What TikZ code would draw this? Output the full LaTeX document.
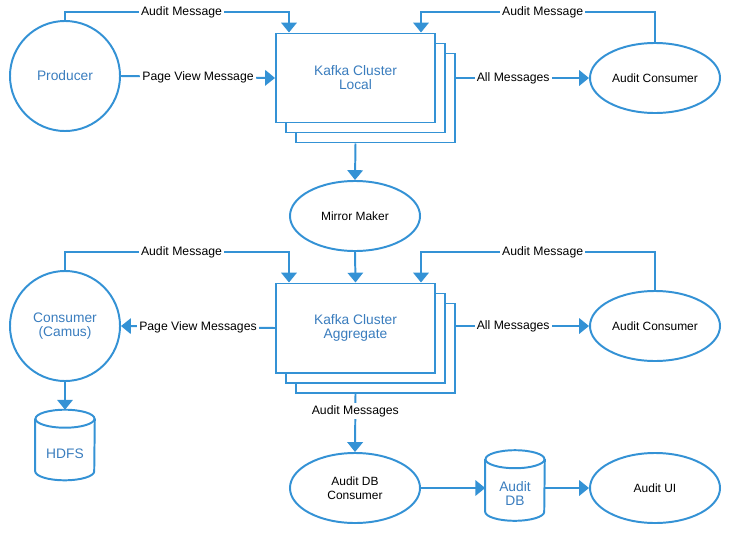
\documentclass[tikz,border=0pt]{standalone}
\usepackage{fontspec}
\setmainfont{Liberation Sans}
\usetikzlibrary{shapes.geometric,arrows.meta,calc}

\definecolor{flowblue}{RGB}{52,146,213}
\definecolor{textblue}{RGB}{58,125,190}

\tikzset{
  flow/.style={draw=flowblue, line width=1.4pt, -{Triangle[width=11pt,length=7pt]}},
  lbl/.style={fill=white, inner sep=1.5pt, font=\fontsize{8.7}{10}\selectfont, text=black},
  bluetxt/.style={font=\fontsize{9.8}{10}\selectfont, text=textblue, align=center},
  blacktxt/.style={font=\fontsize{8.5}{10}\selectfont, text=black, align=center},
  proc/.style={circle, draw=flowblue, line width=1.4pt, minimum size=2.75cm, inner sep=0pt},
  oval/.style={ellipse, draw=flowblue, line width=1.4pt, minimum width=3.25cm, minimum height=1.75cm, inner sep=0pt},
  cluster/.style={rectangle, draw=flowblue, fill=white, line width=1.4pt, minimum width=3.975cm, minimum height=2.225cm, inner sep=0pt},
  dbbox/.style={rectangle, minimum width=1.475cm, minimum height=1.75cm, inner sep=0pt}
}

\newcommand{\dbcyl}[1]{%
  \draw[flowblue, line width=1.4pt] ($(#1.north)+(0,9)$) ellipse [x radius=29.5, y radius=9];
  \draw[flowblue, line width=1.4pt] ($(#1.north west)+(0,9)$) -- ($(#1.south west)+(0,-9)$)
    arc (180:0:29.5 and 9) -- ($(#1.north east)+(0,9)$);
}

\begin{document}
\begin{tikzpicture}[x=0.025cm, y=-0.025cm]
\useasboundingbox (0,0) rectangle (730,533);

% Local cluster (stacked)
\node[cluster] (local3) at (375.5,98) {};
\node[cluster] (local2) at (365.5,88) {};
\node[cluster, bluetxt] (local) at (355.5,78) {Kafka Cluster\\Local};

% Aggregate cluster (stacked)
\node[cluster] (agg3) at (375.5,348) {};
\node[cluster] (agg2) at (365.5,338) {};
\node[cluster, bluetxt] (agg) at (355.5,328) {Kafka Cluster\\Aggregate};

% Processes
\node[proc, bluetxt] (producer) at (65,76) {Producer};
\node[proc, bluetxt] (camus) at (65,326) {Consumer\\(Camus)};
\node[oval, blacktxt] (acl) at (655,78) {Audit Consumer};
\node[oval, blacktxt] (mirror) at (355,216) {Mirror Maker};
\node[oval, blacktxt] (acagg) at (655,326) {Audit Consumer};
\node[oval, blacktxt] (adbc) at (355,488) {Audit DB\\Consumer};
\node[oval, blacktxt] (aui) at (655,488) {Audit UI};

% Stores
\node[dbbox, bluetxt] (hdfs) at (65,445) {\raisebox{-6pt}[\height][\depth]{HDFS}};
\dbcyl{hdfs}
\node[dbbox, bluetxt] (adb) at (515,485.5) {\raisebox{-7pt}[\height][\depth]{\begin{tabular}{@{}c@{}}Audit\\DB\end{tabular}}};
\dbcyl{adb}

% Upper flows
\draw[flow] (producer.north) -- ++(0,-8) -| node[lbl, pos=0.26] {Audit Message} ($(local.north west)+(14,0)$);
\draw[flow] (producer.east) -- node[lbl] {Page View Message} (local.west);
\draw[flow] (acl.north) -- ++(0,-30) -| node[lbl, pos=0.24] {Audit Message} ($(local.north east)+(-15,0)$);
\draw[flow] (acl.west -| local3.east) -- node[lbl, pos=0.43] {All Messages} (acl.west);
\draw[flow] (local.south |- local3.south) -- (mirror.north);
\draw[flow] (mirror.south) -- (agg.north);

% Lower flows
\draw[flow] (camus.north) -- ++(0,-18) -| node[lbl, pos=0.26] {Audit Message} ($(agg.north west)+(14,0)$);
\draw[flow] (agg.west) -- node[lbl] {Page View Messages} (camus.east);
\draw[flow] (acagg.north) -- ++(0,-38) -| node[lbl, pos=0.24] {Audit Message} ($(agg.north east)+(-15,0)$);
\draw[flow] (acagg.west -| agg3.east) -- node[lbl, pos=0.43] {All Messages} (acagg.west);
\draw[flow] (camus.south) -- (hdfs.north);
\draw[flow] (agg.south |- agg3.south) -- node[lbl, pos=0.3] {Audit Messages} (adbc.north);
\draw[flow] (adbc.east) -- (adbc.east -| adb.west);
\draw[flow] (aui.west -| adb.east) -- (aui.west);
\end{tikzpicture}
\end{document}
